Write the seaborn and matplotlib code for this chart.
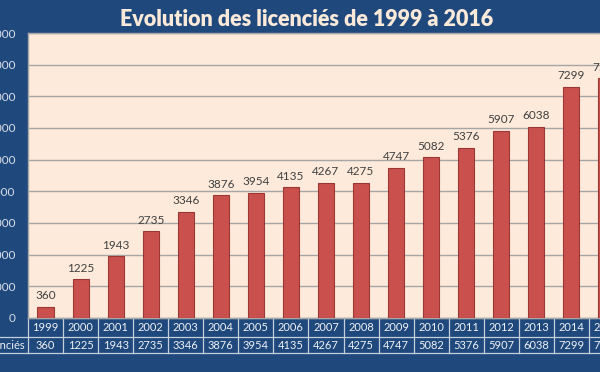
import matplotlib
matplotlib.use("Agg")
import matplotlib.pyplot as plt
import matplotlib.transforms as mtransforms
import seaborn as sns
import pandas as pd

# values (2015 partly hidden, 2016 off the picture: estimated)
years = ["1999", "2000", "2001", "2002", "2003", "2004", "2005", "2006", "2007",
         "2008", "2009", "2010", "2011", "2012", "2013", "2014", "2015", "2016"]
licencies = [360, 1225, 1943, 2735, 3346, 3876, 3954, 4135, 4267,
             4275, 4747, 5082, 5376, 5907, 6038, 7299, 7573, 7812]
yticks = list(range(0, 10000, 1000))

bg = "#1F497D"
plot_bg = "#FDEADA"
bar_color = "#C9504D"
table_line = "#C5CEDB"
text_light = "#EEF0F4"

plt.rcParams["font.family"] = ["Lato", "DejaVu Sans"]

df = pd.DataFrame({"year": years, "n": licencies})

fig = plt.figure(figsize=(6, 3.72), dpi=100, facecolor=bg)
# the plot area runs past the right edge, as in the cropped original
ax = fig.add_axes([28 / 600, 54 / 372, 631 / 600, 285 / 372])
ax.set_facecolor(plot_bg)

sns.barplot(data=df, x="year", y="n", color=bar_color, width=0.46,
            edgecolor="#9A3835", linewidth=0.8, saturation=1, ax=ax, zorder=3)
ax.bar_label(ax.containers[0], labels=[str(v) for v in licencies],
             padding=4, fontsize=8.5, color="#404040")

ax.set_ylim(0, 9000)
ax.set_xlim(-0.5, len(years) - 0.5)
ax.set_yticks(yticks)
ax.set_yticklabels([str(t) for t in yticks])
ax.yaxis.grid(True, color="#A6A6A6", linewidth=1.0, zorder=0)
ax.set_axisbelow(True)
ax.tick_params(axis="y", length=0, pad=9, labelsize=8.5, labelcolor="#D9DEE8")
ax.tick_params(axis="x", length=0, labelbottom=False)
ax.set_xlabel("")
ax.set_ylabel("")
for s in ax.spines.values():
    s.set_color("#A6A6A6")
    s.set_linewidth(1.0)

# data table under the plot
trans = mtransforms.blended_transform_factory(ax.transData, ax.transAxes)
row1, row2, row3 = -0.0667, -0.1245, 0.0
for i, (yr, v) in enumerate(zip(years, licencies)):
    ax.text(i, -0.033, yr, transform=trans, ha="center", va="center",
            fontsize=8, color=text_light, clip_on=False)
    ax.text(i, -0.096, str(v), transform=trans, ha="center", va="center",
            fontsize=8, color=text_light, clip_on=False)
for i in range(len(years) + 1):
    ax.plot([i - 0.5, i - 0.5], [row3, row2], transform=trans, color=table_line,
            linewidth=0.9, clip_on=False)
ax.plot([-0.5, len(years) - 0.5], [0, 0], transform=trans, color=table_line,
        linewidth=0.9, clip_on=False)
for yy in (row1, row2):
    ax.plot([-3, len(years) - 0.5], [yy, yy], transform=trans, color=table_line,
            linewidth=0.9, clip_on=False)
ax.text(-0.59, -0.096, "Licenciés", transform=trans, ha="right", va="center",
        fontsize=8, color=text_light, clip_on=False)

fig.text(307 / 600, 1 - 20 / 372, "Evolution des licenciés de 1999 à 2016",
         ha="center", va="center", fontsize=15.5, fontweight="heavy", color="#FBE9D9")

fig.savefig("out.png", dpi=100, facecolor=bg)
